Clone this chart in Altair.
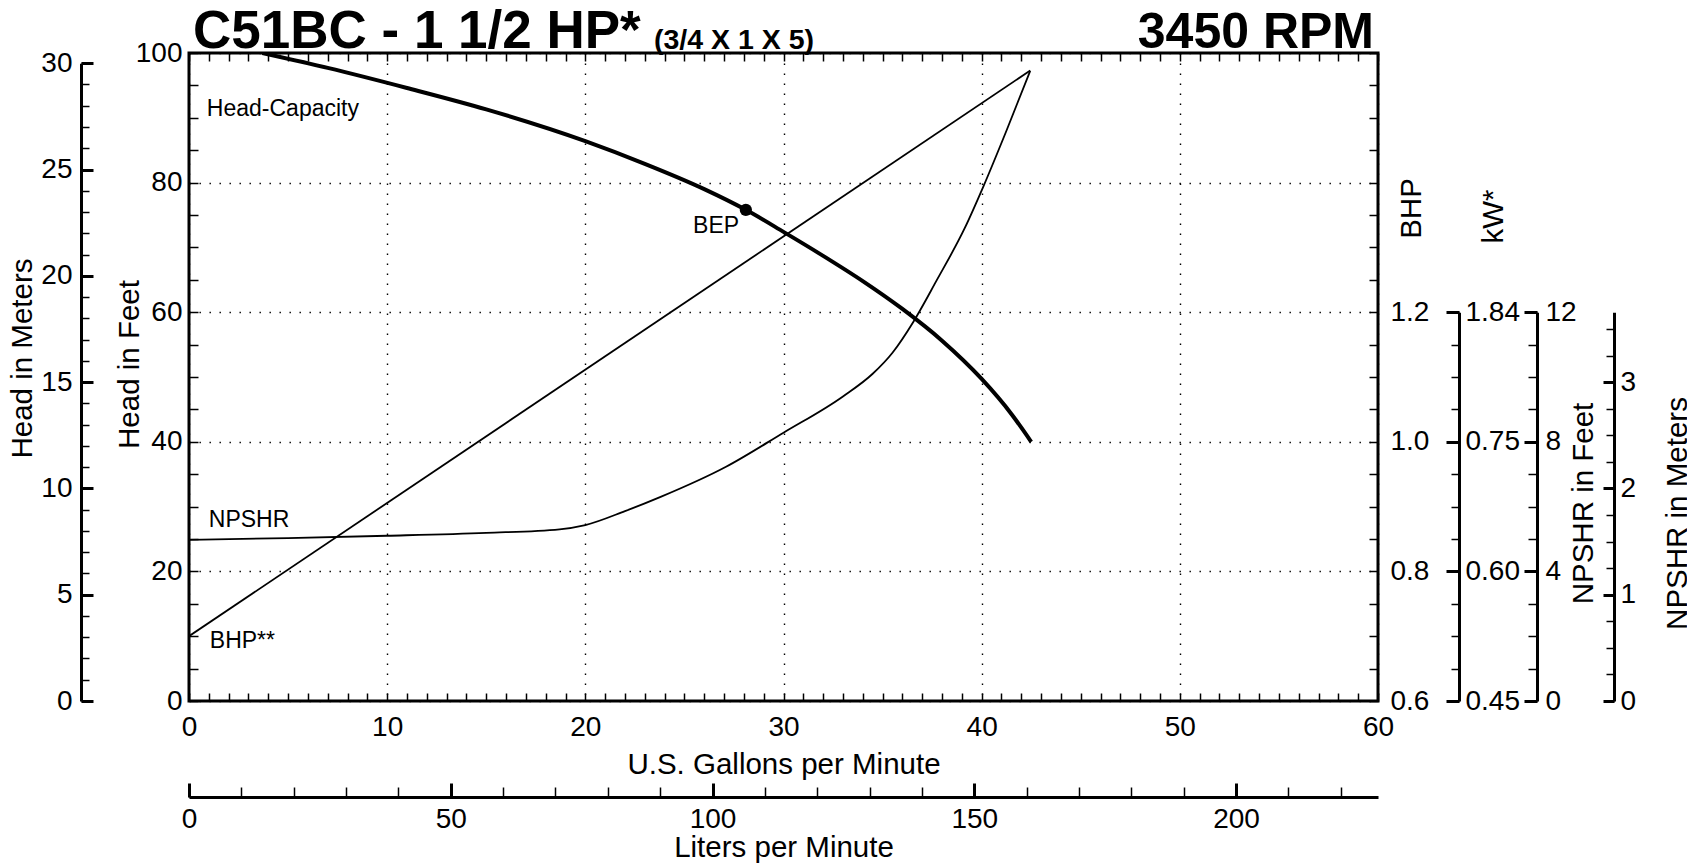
import altair as alt
import pandas as pd

# ---------------- data ----------------
head_gpm = [3.7, 7, 11, 15, 20, 23, 26, 28.1, 30, 32, 34, 36, 38, 40, 41.5, 42.5]
head_ft = [100.0, 97.7, 94.6, 91.3, 86.4, 82.9, 79.0, 75.8, 72.4, 68.7, 64.8, 60.5, 55.6, 49.7, 44.3, 40.0]

npshr_gpm = [0, 5, 10, 15, 18.7, 20, 22, 23.8, 27.1, 30, 33, 34.5, 35.5, 36.55, 37.7, 39.15, 40.1, 41.25, 42.45]
npshr_ft = [4.97, 5.03, 5.10, 5.19, 5.30, 5.43, 5.86, 6.30, 7.23, 8.28, 9.40, 10.10, 10.75, 11.70, 12.95, 14.60, 15.90, 17.60, 19.45]

bhp_gpm = [0, 42.45]
bhp_hp = [0.70, 1.573]

bep_gpm = [28.1]
bep_ft = [75.8]

ann_text = ["Head-Capacity", "NPSHR", "BHP**"]
ann_gpm = [0.9, 1.0, 1.05]
ann_ft = [91.4, 27.9, 9.2]
bep_label = ["BEP"]
bep_label_gpm = [26.6]
bep_label_ft = [73.3]

title_main = ["C51BC - 1 1/2 HP*"]
title_sub = ["(3/4 X 1 X 5)"]
title_rpm = ["3450 RPM"]

# axis tick values / labels
gpm_labels = [0, 10, 20, 30, 40, 50, 60]
lpm_labels = [0, 50, 100, 150, 200]
ft_labels = [0, 20, 40, 60, 80, 100]
m_labels = [0, 5, 10, 15, 20, 25, 30]
bhp_labels = [0.6, 0.8, 1.0, 1.2]
kw_ticks = [0.45, 0.60, 0.75, 0.90]
kw_text = ["0.45", "0.60", "0.75", "1.84"]
npft_labels = [0, 4, 8, 12]
npm_labels = [0, 1, 2, 3]

gpm_minor = list(range(0, 61))
lpm_minor = list(range(0, 230, 10))
ft_minor = list(range(0, 101, 5))
m_minor = list(range(0, 31))
kw_minor = [round(0.45 + 0.0375 * i, 4) for i in range(13)]
npft_minor = list(range(0, 13))
npm_minor = [0.25 * i for i in range(15)]

GAL_L = 3.78541
FT_M = 0.3048

# ---------------- layout ----------------
W, H = 1189, 648
FONT = "Liberation Sans"
part_range = [H, H * 0.4]               # 0..60 ft equivalent
m_range = [H, H - 30 / FT_M / 100 * H]  # 0..30 m


def sx():
    return alt.Scale(domain=[0, 60], nice=False, zero=False)


def sl():
    return alt.Scale(domain=[0, 60 * GAL_L], nice=False, zero=False)


def sft():
    return alt.Scale(domain=[0, 100], nice=False, zero=False)


def sm():
    return alt.Scale(domain=[0, 30], range=m_range, nice=False, zero=False)


def sbhp():
    return alt.Scale(domain=[0.6, 1.6], nice=False, zero=False)


def skw():
    return alt.Scale(domain=[0.45, 0.90], range=part_range, nice=False, zero=False)


def snpft():
    return alt.Scale(domain=[0, 12], range=part_range, nice=False, zero=False)


def snpm():
    return alt.Scale(domain=[0, 12 * FT_M], range=part_range, nice=False, zero=False)


def tick_axis(orient, offset, size, values, width):
    return alt.Axis(orient=orient, offset=offset, tickSize=size, tickWidth=width,
                    tickColor="black", values=values, domain=False, labels=False,
                    grid=False, ticks=True, title=None)


GRID = dict(grid=True, gridColor="black", gridDash=[1.4, 8.6], gridWidth=1.4, gridOpacity=1)

head_df = pd.DataFrame({"gpm": head_gpm, "ft": head_ft})
npshr_df = pd.DataFrame({"gpm": npshr_gpm, "npshr": npshr_ft})
bhp_df = pd.DataFrame({"gpm": bhp_gpm, "bhp": bhp_hp})
bep_df = pd.DataFrame({"gpm": bep_gpm, "ft": bep_ft})
ann_df = pd.DataFrame({"gpm": ann_gpm, "ft": ann_ft, "t": ann_text})
bepl_df = pd.DataFrame({"gpm": bep_label_gpm, "ft": bep_label_ft, "t": bep_label})


def ghost(xaxis, yaxis, xscale, yscale):
    return alt.Chart(head_df).mark_point(opacity=0, clip=True).encode(
        x=alt.X("gpm:Q", scale=xscale, axis=xaxis),
        y=alt.Y("ft:Q", scale=yscale, axis=yaxis),
    )


layers = []

# Head-capacity curve with main axes
layers.append(
    alt.Chart(head_df).mark_line(color="black", strokeWidth=4, interpolate="monotone", clip=True).encode(
        x=alt.X("gpm:Q", scale=sx(), axis=alt.Axis(
            orient="bottom", values=gpm_labels, format="d", domain=False, ticks=False,
            labelPadding=12, labelFlush=False, labelOverlap=False,
            title="U.S. Gallons per Minute", titleX=W / 2, titleY=72, titleAlign="center",
            titleBaseline="alphabetic", titleAngle=0, **GRID)),
        y=alt.Y("ft:Q", scale=sft(), axis=alt.Axis(
            orient="left", values=ft_labels, format="d", domain=False, ticks=False,
            labelPadding=7, labelFlush=False, labelOverlap=False,
            title="Head in Feet", titleAngle=270, titleX=-51, titleY=311,
            titleAlign="center", titleBaseline="alphabetic", **GRID)),
    )
)

# inward frame ticks (bottom + left)
layers.append(ghost(tick_axis("bottom", -8, 8, gpm_minor, 1.5),
                    tick_axis("left", -9, 9, ft_minor, 1.5), sx(), sft()))
# inward frame ticks (top + right)
layers.append(ghost(tick_axis("top", -8, 8, gpm_minor, 1.5),
                    tick_axis("right", -9, 9, ft_minor, 1.5), sx(), sft()))

# BHP line with BHP axis
layers.append(
    alt.Chart(bhp_df).mark_line(color="black", strokeWidth=1.8, clip=True).encode(
        x=alt.X("gpm:Q", scale=sx(), axis=None),
        y=alt.Y("bhp:Q", scale=sbhp(), axis=alt.Axis(
            orient="right", values=bhp_labels, format=".1f", domain=False, ticks=False,
            labelPadding=12, labelFlush=False, labelOverlap=False, grid=False,
            title="BHP", titleAngle=270, titleX=42, titleY=155, titleAlign="center",
            titleBaseline="alphabetic")),
    )
)

# NPSHR curve with NPSHR-in-feet axis
layers.append(
    alt.Chart(npshr_df).mark_line(color="black", strokeWidth=1.8, interpolate="monotone", clip=True).encode(
        x=alt.X("gpm:Q", scale=sx(), axis=None),
        y=alt.Y("npshr:Q", scale=snpft(), axis=alt.Axis(
            orient="right", offset=159, values=npft_labels, format="d", domain=True,
            ticks=False, labelPadding=8, labelFlush=False, labelOverlap=False, grid=False,
            title="NPSHR in Feet", titleAngle=270, titleX=55, titleY=450,
            titleAlign="center", titleBaseline="alphabetic")),
    )
)
layers.append(ghost(None, tick_axis("right", 146, 13, npft_labels, 3), sx(), snpft()))
layers.append(ghost(None, tick_axis("right", 150, 9, npft_minor, 1.5), sx(), snpft()))

# kW axis
kw_expr = " : ".join(
    [f"abs(datum.value - {v}) < 0.001 ? '{t}'" for v, t in zip(kw_ticks, kw_text)]
) + " : ''"
layers.append(ghost(None, alt.Axis(
    orient="right", offset=81, values=kw_ticks, labelExpr=kw_expr, domain=True, ticks=False,
    labelPadding=6, labelFlush=False, labelOverlap=False, grid=False,
    title="kW*", titleAngle=270, titleX=43, titleY=163, titleAlign="center",
    titleBaseline="alphabetic"), sx(), skw()))
layers.append(ghost(None, tick_axis("right", 68, 13, kw_ticks, 3), sx(), skw()))
layers.append(ghost(None, tick_axis("right", 73, 8, kw_minor, 1.5), sx(), skw()))

# NPSHR in meters axis
layers.append(ghost(None, alt.Axis(
    orient="right", offset=236, values=npm_labels, format="d", domain=True, ticks=False,
    labelPadding=6, labelFlush=False, labelOverlap=False, grid=False,
    title="NPSHR in Meters", titleAngle=270, titleX=72, titleY=460, titleAlign="center",
    titleBaseline="alphabetic"), sx(), snpm()))
layers.append(ghost(None, tick_axis("right", 225, 11, npm_labels, 3), sx(), snpm()))
layers.append(ghost(None, tick_axis("right", 228, 8, npm_minor, 1.5), sx(), snpm()))

# Head in meters (left) + liters per minute (bottom)
layers.append(ghost(
    alt.Axis(orient="bottom", offset=96, values=lpm_labels, format="d", domain=True, ticks=False,
             labelPadding=8, labelFlush=False, labelOverlap=False, grid=False,
             title="Liters per Minute", titleX=W / 2, titleY=59, titleAlign="center",
             titleBaseline="alphabetic", titleAngle=0),
    alt.Axis(orient="left", offset=108, values=m_labels, format="d", domain=True, ticks=False,
             labelPadding=9, labelFlush=False, labelOverlap=False, grid=False,
             title="Head in Meters", titleAngle=270, titleX=-50, titleY=305,
             titleAlign="center", titleBaseline="alphabetic"),
    sl(), sm()))
layers.append(ghost(tick_axis("bottom", 82, 14, lpm_labels, 3),
                    tick_axis("left", 96, 12, m_labels, 3), sl(), sm()))
layers.append(ghost(tick_axis("bottom", 86, 10, lpm_minor, 1.5),
                    tick_axis("left", 100, 8, m_minor, 1.5), sl(), sm()))

# BEP point
layers.append(
    alt.Chart(bep_df).mark_circle(color="black", size=150, opacity=1).encode(
        x=alt.X("gpm:Q", scale=sx(), axis=None),
        y=alt.Y("ft:Q", scale=sft(), axis=None),
    )
)

# curve annotations
layers.append(
    alt.Chart(ann_df).mark_text(font=FONT, fontSize=23, align="left", baseline="middle", color="black").encode(
        x=alt.X("gpm:Q", scale=sx(), axis=None),
        y=alt.Y("ft:Q", scale=sft(), axis=None),
        text="t:N",
    )
)
layers.append(
    alt.Chart(bepl_df).mark_text(font=FONT, fontSize=23, align="center", baseline="middle", color="black").encode(
        x=alt.X("gpm:Q", scale=sx(), axis=None),
        y=alt.Y("ft:Q", scale=sft(), axis=None),
        text="t:N",
    )
)


# headings
def heading(text, gx, size, align, dx, dy):
    df = pd.DataFrame({"gpm": [gx], "ft": [100], "t": text})
    return alt.Chart(df).mark_text(font=FONT, fontSize=size, fontWeight="bold", align=align,
                                   baseline="alphabetic", dx=dx, dy=dy, color="black").encode(
        x=alt.X("gpm:Q", scale=sx(), axis=None),
        y=alt.Y("ft:Q", scale=sft(), axis=None),
        text="t:N",
    )


layers.append(heading(title_main, 0, 53, "left", 4, -5))
layers.append(heading(title_sub, 0, 28.5, "left", 465, -4))
layers.append(heading(title_rpm, 60, 50, "right", -4, -5))

chart = (
    alt.layer(*layers)
    .resolve_scale(x="independent", y="independent")
    .properties(
        width=W,
        height=H,
        autosize=alt.AutoSizeParams(type="none"),
        padding={"left": 181, "top": 45, "right": 309, "bottom": 162},
        background="white",
    )
    .configure_view(stroke="black", strokeWidth=3)
    .configure_axis(
        labelFont=FONT, labelFontSize=28, labelColor="black",
        titleFont=FONT, titleFontSize=29.5, titleFontWeight="normal", titleColor="black",
        domainColor="black", domainWidth=3, tickColor="black",
    )
)

chart.save("out.html", embed_options={"renderer": "svg", "actions": False})
